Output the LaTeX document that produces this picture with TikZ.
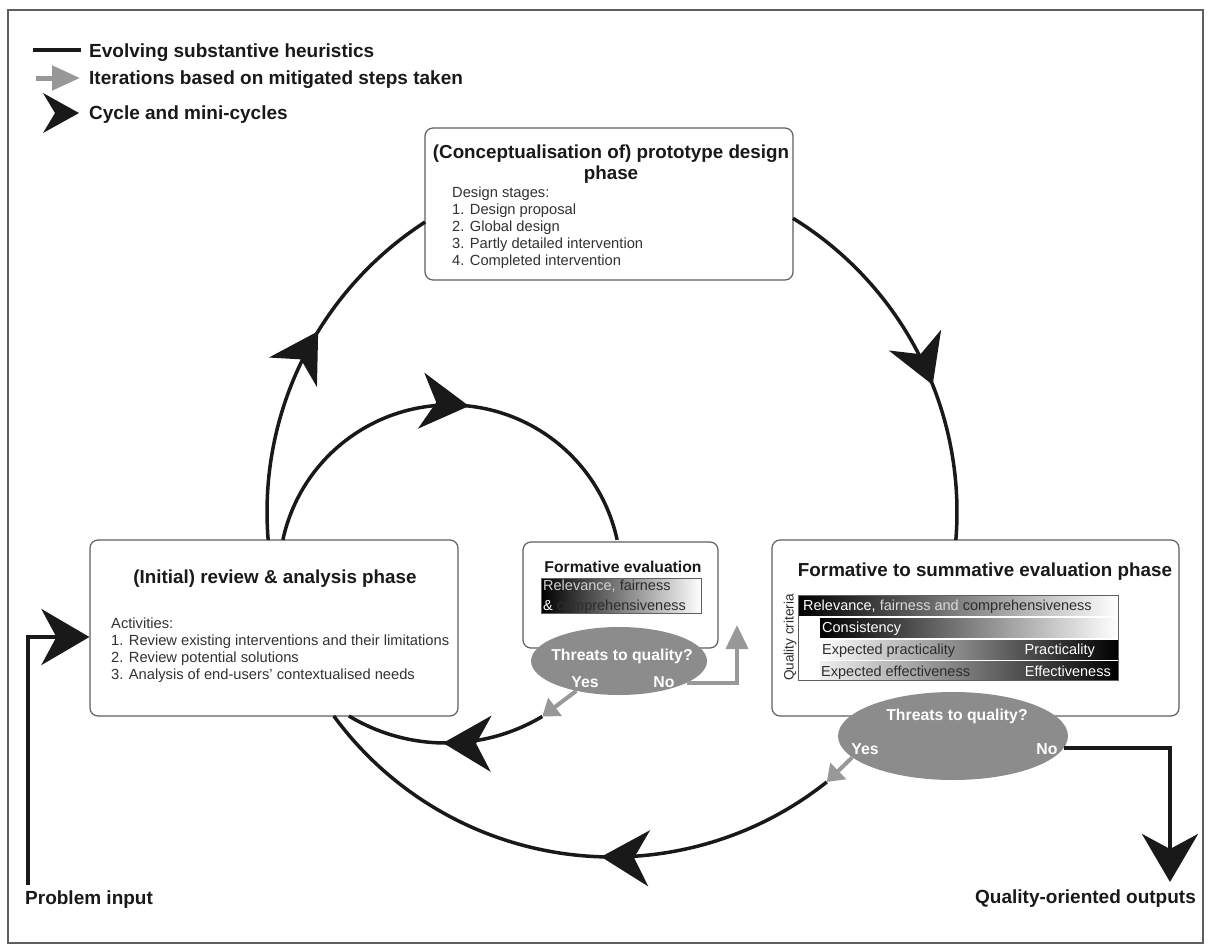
\documentclass[tikz,border=0pt]{standalone}
\usepackage{fontspec}
\setmainfont{Liberation Sans}
\usetikzlibrary{arrows.meta,decorations.markings,calc,shapes.geometric}

\definecolor{ellgray}{RGB}{140,140,140}
\definecolor{arrgray}{RGB}{152,152,152}
\definecolor{boxline}{RGB}{95,95,95}
\definecolor{ink}{RGB}{25,25,25}
\definecolor{bodyink}{RGB}{50,50,50}
\definecolor{darkink}{RGB}{45,45,45}

\begin{document}
\begin{tikzpicture}[x=1pt,y=-1pt,
  frame/.style={draw=boxline, line width=1.3pt},
  phasebox/.style={draw=boxline, line width=1.2pt, rounded corners=8pt, fill=white, inner sep=0},
  ttl/.style={font=\fontsize{18.8}{22}\selectfont\bfseries, text=ink, inner sep=0, anchor=base},
  legtxt/.style={font=\fontsize{19}{22}\selectfont\bfseries, text=ink, inner sep=0, anchor=base west},
  body/.style={font=\fontsize{14.7}{17}\selectfont, text=bodyink, inner sep=0, anchor=base west},
  rowtxt/.style={font=\fontsize{14.5}{17}\selectfont, inner sep=0, anchor=base west},
  elltxt/.style={font=\fontsize{15.8}{18}\selectfont\bfseries, text=white, inner sep=0, anchor=base},
  threat/.style={ellipse, fill=ellgray, inner sep=0},
  cycline/.style={draw=ink, line width=3.5pt},
  grayline/.style={draw=arrgray, line width=4pt},
  bigtip/.style={-{Stealth[length=48pt,width=56pt,inset=15pt]}},
  cycarrow/.style={postaction={decorate, decoration={markings,
      mark=at position #1 with {\arrow[ink]{Stealth[length=48pt,width=56pt,inset=15pt]}}}}},
  gradrow/.style={inner sep=0, anchor=north west}
]
\useasboundingbox (0,0) rectangle (1211,951);
\draw[frame] (8,10) rectangle (1203,943);

% ---------- legend ----------
\coordinate (lgA) at (33,50);
\coordinate (lgB) at (81,50);
\draw[cycline] (lgA) -- (lgB);
\node[legtxt] (lgt1) at (89,57.8) {Evolving substantive heuristics};
\coordinate (lgC) at (36,78);
\coordinate (lgD) at (80,78);
\draw[grayline, line width=5pt, -{Triangle[length=28pt,width=24pt]}] (lgC) -- (lgD);
\node[legtxt] (lgt2) at (89,84.8) {Iterations based on mitigated steps taken};
\fill[ink] (79,113) -- (43,93) -- (55,113) -- (43,133) -- cycle;
\node[legtxt] (lgt3) at (89,119.8) {Cycle and mini-cycles};

% ---------- phase boxes ----------
\node[phasebox, minimum width=368pt, minimum height=152pt] (tbox) at (609,204) {};
\node[phasebox, minimum width=368pt, minimum height=176pt] (lbox) at (274,628) {};
\node[phasebox, minimum width=195pt, minimum height=106pt] (mbox) at (620.5,595) {};
\node[phasebox, minimum width=407pt, minimum height=176pt] (rbox) at (975.5,628) {};

% top box text
\node[ttl] (tt1) at (611,158.7) {(Conceptualisation of) prototype design};
\node[ttl] (tt2) at (611,179.7) {phase};
\node[body] (td0) at (452,197.3) {Design stages:};
\node[body] (td1) at (452,214.3) {1. Design proposal};
\node[body] (td2) at (452,231.3) {2. Global design};
\node[body] (td3) at (452,248.3) {3. Partly detailed intervention};
\node[body] (td4) at (452,265.3) {4. Completed intervention};

% left box text
\node[ttl] (lt1) at (275,583.7) {(Initial) review \& analysis phase};
\node[body] (la0) at (111,628.3) {Activities:};
\node[body] (la1) at (111,645.3) {1. Review existing interventions and their limitations};
\node[body] (la2) at (111,662.3) {2. Review potential solutions};
\node[body] (la3) at (111,679.3) {3. Analysis of end-users’ contextualised needs};

% middle box text
\node[ttl, font=\fontsize{15.7}{18}\selectfont\bfseries] (mt1) at (623,572.6) {Formative evaluation};
\node[gradrow, draw=boxline, line width=1pt, left color=black, right color=white,
      minimum width=160pt, minimum height=35pt] (mgrad) at (541,578) {};
\node[rowtxt] (mg1) at (543,590.2) {\color{gray!35}Relevance, \color{darkink}fairness};
\node[rowtxt] (mg2) at (543,610.2) {\color{white}\& \color{darkink}comprehensiveness};

% right box text and quality criteria
\node[ttl] (rt1) at (985,576.7) {Formative to summative evaluation phase};
\node[gradrow, left color=black, right color=white, minimum width=320pt, minimum height=20pt] (row1) at (798,595) {};
\node[gradrow, left color=black, right color=white, minimum width=298pt, minimum height=19pt] (row2) at (820,618) {};
\node[gradrow, left color=white, right color=black, minimum width=298pt, minimum height=19pt] (row3) at (820,640) {};
\node[gradrow, left color=gray!12, right color=black, minimum width=298pt, minimum height=19pt] (row4) at (820,661) {};
\draw[draw=boxline, line width=1pt] (row1.north west) rectangle (row4.south east);
\node[rowtxt] (q1) at (803,610.2) {\color{white}Relevance, \color{gray!30}fairness and \color{darkink}comprehensiveness};
\node[rowtxt, text=white] (q2) at (822,632.2) {Consistency};
\node[rowtxt, text=darkink] (q3a) at (822,654.2) {Expected practicality};
\node[rowtxt, text=white, anchor=base east] (q3b) at (1095,654.2) {Practicality};
\node[rowtxt, text=darkink] (q4a) at (821,676.2) {Expected effectiveness};
\node[rowtxt, text=white, anchor=base east] (q4b) at (1111,676.2) {Effectiveness};
\node[font=\fontsize{13.6}{16}\selectfont, text=darkink, inner sep=0, rotate=90] (qc) at (790,637.5) {Quality criteria};

% ---------- threats ellipses ----------
\node[threat, minimum width=176pt, minimum height=68pt] (mell) at (619,661) {};
\node[elltxt] (me1) at (622,660.7) {Threats to quality?};
\node[elltxt] (me2) at (585,687.7) {Yes};
\node[elltxt] (me3) at (664,687.7) {No};

\node[threat, minimum width=230pt, minimum height=88pt] (rell) at (953,736) {};
\node[elltxt] (re1) at (957,720.7) {Threats to quality?};
\node[elltxt] (re2) at (865,754.7) {Yes};
\node[elltxt] (re3) at (1047,754.7) {No};

% ---------- cycle and mini-cycles ----------
\coordinate (O) at (612,512);
\coordinate (Om) at (450,576);
\coordinate (Ob) at (446,555);

% initial review -> prototype design
\coordinate (aS) at ($(O)+(175.35:345)$);
\draw[cycline, cycarrow=0.586] (aS) arc[start angle=175.35, end angle=237.2, radius=345];
% prototype design -> formative to summative evaluation
\coordinate (bS) at ($(O)+(-58.36:345)$);
\draw[cycline, cycarrow=0.583] (bS) arc[start angle=-58.36, end angle=4.65, radius=345];
% back to the initial review
\coordinate (cS) at ($(O)+(51.5:345)$);
\draw[cycline, cycarrow=0.437] (cS) arc[start angle=51.5, end angle=143.75, radius=345];
% mini-cycle: review -> formative evaluation
\coordinate (dS) at ($(Om)+(192.2:171)$);
\draw[cycline, cycarrow=0.541] (dS) arc[start angle=192.2, end angle=347.8, radius=171];
% mini-cycle: formative evaluation -> review
\coordinate (eS) at ($(Ob)+(59.2:188)$);
\draw[cycline, cycarrow=0.512] (eS) arc[start angle=59.2, end angle=121.1, radius=188];

% ---------- iteration arrows ----------
\draw[grayline, -{Triangle[length=16pt,width=22pt]}] (mell.215) -- (eS);
\coordinate (mNo) at (737,625);
\draw[grayline, -{Triangle[length=24pt,width=22pt]}] (mell.-18) -| (mNo);
\draw[grayline, -{Triangle[length=16pt,width=22pt]}] (rell.192) -- (cS);

% ---------- input and output ----------
\node[legtxt] (pin) at (25,904.8) {Problem input};
\coordinate (pinS) at (28,885);
\draw[cycline, line width=4pt, bigtip] (pinS) |- ($(lbox.west)+(0,9)$);
\node[legtxt] (qout) at (975,903.7) {Quality-oriented outputs};
\coordinate (outT) at (1170,882);
\draw[cycline, line width=4pt, bigtip] (rell.-6.7) -| (outT);
\end{tikzpicture}
\end{document}
